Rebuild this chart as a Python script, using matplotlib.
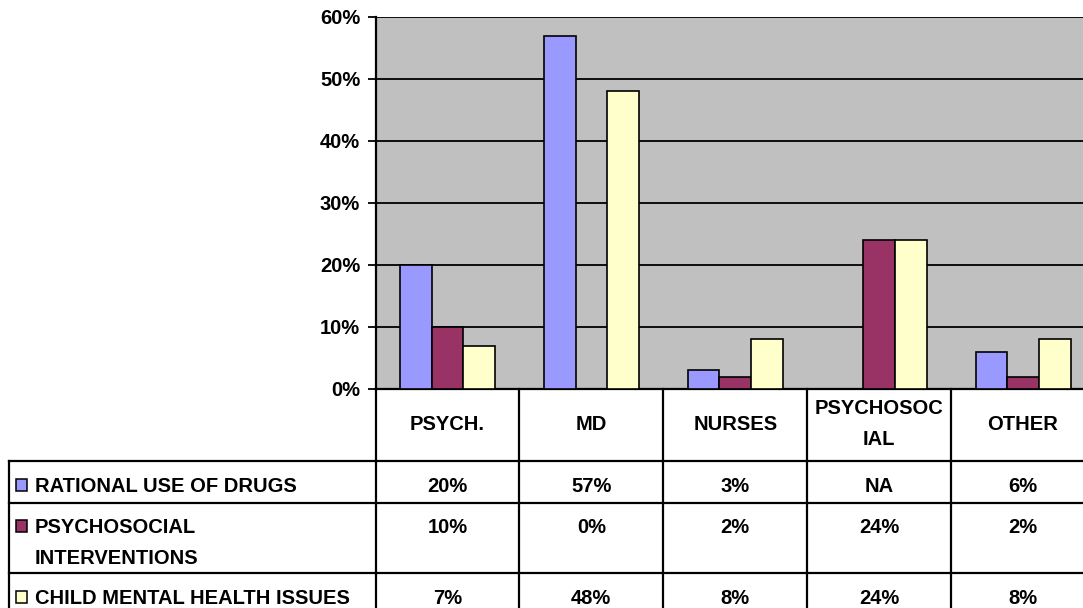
import matplotlib
matplotlib.use("Agg")
import matplotlib.pyplot as plt
import numpy as np
from matplotlib.transforms import blended_transform_factory
from matplotlib.patches import Rectangle

categories = ["PSYCH.", "MD", "NURSES", "PSYCHOSOC\nIAL", "OTHER"]
series_names = ["RATIONAL USE OF DRUGS", "PSYCHOSOCIAL\nINTERVENTIONS", "CHILD MENTAL HEALTH ISSUES"]
rational = [0.20, 0.57, 0.03, np.nan, 0.06]
psychosocial = [0.10, 0.00, 0.02, 0.24, 0.02]
child = [0.07, 0.48, 0.08, 0.24, 0.08]
table_text = [
    ["20%", "57%", "3%", "NA", "6%"],
    ["10%", "0%", "2%", "24%", "2%"],
    ["7%", "48%", "8%", "24%", "8%"],
]
yticks = [0, 0.1, 0.2, 0.3, 0.4, 0.5, 0.6]
ytick_labels = ["0%", "10%", "20%", "30%", "40%", "50%", "60%"]
colors = ["#9999FF", "#993366", "#FFFFCC"]

plt.rcParams['font.family'] = ['Liberation Sans', 'DejaVu Sans']
plt.rcParams['font.weight'] = 'bold'

W, H = 1083, 608
fig = plt.figure(figsize=(W / 100, H / 100), dpi=100)

# axes pixel geometry
L, R, T, B = 375.5, 1095.0, 17.0, 389.0
ax = fig.add_axes([L / W, (H - B) / H, (R - L) / W, (B - T) / H])
ax.set_facecolor("#C0C0C0")
ax.set_xlim(-0.5, len(categories) - 0.5)
ax.set_ylim(0, 0.6)

x = np.arange(len(categories))
bw = 0.22
for i, (vals, c) in enumerate(zip([rational, psychosocial, child], colors)):
    ax.bar(x + (i - 1) * bw, vals, width=bw, color=c, edgecolor="black", linewidth=1.2, zorder=3)

fs = 14.5
ax.set_yticks(yticks)
ax.set_yticklabels(ytick_labels, fontsize=fs, fontweight='bold')
ax.yaxis.grid(True, color="black", linewidth=1.3, zorder=1)
ax.set_axisbelow(True)
ax.set_xticks([])
ax.tick_params(axis='y', length=6, width=1.3, pad=5, direction='out')
for s in ["left", "bottom"]:
    ax.spines[s].set_linewidth(1.6)
ax.spines["top"].set_visible(False)
ax.spines["right"].set_visible(False)


def py(y):
    return (H - y) / H


tr = blended_transform_factory(ax.transData, fig.transFigure)
ftr = fig.transFigure

row_edges = [389, 461, 503, 573, 615]
lw = 1.6
for b in np.arange(-0.5, len(categories), 1.0):
    ax.plot([b, b], [py(389), py(615)], transform=tr, color="black", lw=lw, clip_on=False)
fig.add_artist(plt.Line2D([9 / W, 9 / W], [py(461), py(615)], transform=ftr, color="black", lw=lw))
for y in row_edges[1:4]:
    fig.add_artist(plt.Line2D([9 / W, 1.0], [py(y), py(y)], transform=ftr, color="black", lw=lw))

CAP = 7.2      # half cap height in px
LINE = 31.0    # line spacing in px


def put_lines(text, xx, center_first, transform, ha, block_center=None):
    lines = text.split("\n")
    if block_center is not None:
        first = block_center - LINE * (len(lines) - 1) / 2
    else:
        first = center_first
    for k, ln in enumerate(lines):
        yy = py(first + k * LINE + CAP)
        if transform is ftr:
            fig.text(xx, yy, ln, ha=ha, va="baseline", fontsize=fs, fontweight="bold")
        else:
            ax.text(xx, yy, ln, transform=transform, ha=ha, va="baseline", fontsize=fs,
                    fontweight="bold", clip_on=False)


# header row
for i, cat in enumerate(categories):
    put_lines(cat, x[i], None, tr, "center", block_center=422.5)

# body rows
row_text_y = [485, 526, 597]
for r in range(3):
    for i in range(len(categories)):
        put_lines(table_text[r][i], x[i], row_text_y[r], tr, "center")
    fig.add_artist(Rectangle((16 / W, py(row_text_y[r] + 6)), 11 / W, 12 / H, transform=ftr,
                             facecolor=colors[r], edgecolor="black", lw=1.1))
    put_lines(series_names[r], 35 / W, row_text_y[r], ftr, "left")

fig.savefig("out.png", dpi=100)
